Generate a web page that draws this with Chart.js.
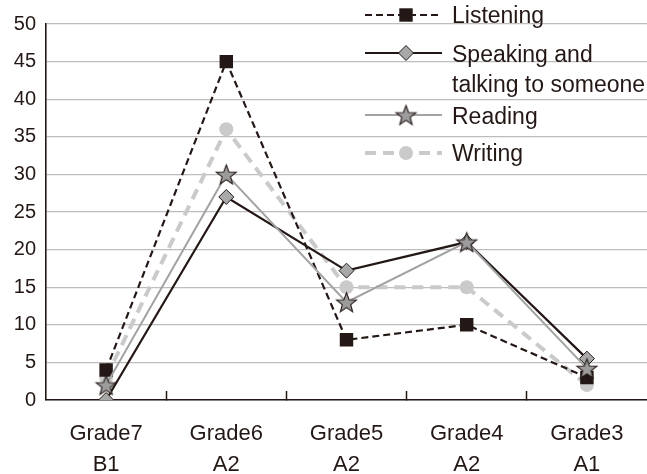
<!DOCTYPE html>
<html>
<head>
<meta charset="utf-8">
<script src="https://cdn.jsdelivr.net/npm/chart.js@4.4.0/dist/chart.umd.min.js"></script>
<style>
  html, body { margin: 0; padding: 0; background: #fff; }
  #wrap { width: 647px; height: 474px; }
</style>
</head>
<body>
<div id="wrap"><canvas id="chart"></canvas></div>
<script>
// data
const categories = [['Grade7', 'B1'], ['Grade6', 'A2'], ['Grade5', 'A2'], ['Grade4', 'A2'], ['Grade3', 'A1']];
const seriesNames = ['Listening', 'Speaking and talking to someone', 'Reading', 'Writing'];
const listening = [4, 45, 8, 10, 3];
const speaking = [0, 27, 17.2, 21, 5.5];
const reading = [2, 30, 13, 21, 4.2];
const writing = [3, 36, 15, 15, 2];
const yMin = 0, yMax = 50, yStep = 5;

const ink = '#231815';

Chart.defaults.font.family = '"Liberation Sans", Arial, sans-serif';
Chart.defaults.color = ink;

// filled 5-point star, Chart.js 'star' is only an asterisk
function makeStar(r, fill, stroke) {
  const s = Math.ceil(r * 2 + 4);
  const c = document.createElement('canvas');
  c.width = s; c.height = s;
  const g = c.getContext('2d');
  g.beginPath();
  for (let i = 0; i < 10; i++) {
    const rad = i % 2 === 0 ? r : r * 0.42;
    const a = -Math.PI / 2 + i * Math.PI / 5;
    const px = s / 2 + rad * Math.cos(a), py = s / 2 + 1 + rad * Math.sin(a);
    i ? g.lineTo(px, py) : g.moveTo(px, py);
  }
  g.closePath();
  g.fillStyle = fill;
  g.fill();
  g.lineWidth = 1.1;
  g.strokeStyle = stroke;
  g.stroke();
  return c;
}
const star = makeStar(10.5, '#9c9c9c', ink);

// legend drawn over the plot, line + marker samples
const legendRows = [
  { ds: 0, y: 15, lines: ['Listening'], base: [23] },
  { ds: 1, y: 53, lines: ['Speaking and', 'talking to someone'], base: [62, 92] },
  { ds: 2, y: 115, lines: ['Reading'], base: [124] },
  { ds: 3, y: 153, lines: ['Writing'], base: [161] }
];
const overlayLegend = {
  id: 'overlayLegend',
  afterDraw(chart) {
    const ctx = chart.ctx;
    legendRows.forEach(row => {
      const ds = chart.data.datasets[row.ds];
      ctx.save();
      ctx.strokeStyle = ds.borderColor;
      ctx.lineWidth = ds.borderWidth;
      ctx.setLineDash(ds.borderDash || []);
      ctx.beginPath();
      ctx.moveTo(365, row.y);
      ctx.lineTo(442, row.y);
      ctx.stroke();
      ctx.setLineDash([]);
      ctx.fillStyle = ds.pointBackgroundColor;
      ctx.strokeStyle = ds.pointBorderColor;
      ctx.lineWidth = ds.pointBorderWidth;
      Chart.helpers.drawPoint(ctx, {
        pointStyle: ds.pointStyle, radius: ds.pointRadius, rotation: 0, borderWidth: ds.pointBorderWidth
      }, 406, row.y);
      ctx.fillStyle = ink;
      ctx.font = '23px "Liberation Sans", Arial, sans-serif';
      ctx.textBaseline = 'alphabetic';
      ctx.textAlign = 'left';
      row.lines.forEach((t, i) => ctx.fillText(t, 452, row.base[i]));
      ctx.restore();
    });
  }
};

new Chart(document.getElementById('chart'), {
  type: 'line',
  data: {
    labels: categories,
    datasets: [
      {
        label: seriesNames[0],
        data: listening,
        borderColor: ink,
        borderWidth: 2.2,
        borderDash: [7, 4],
        pointStyle: 'rect',
        pointRadius: 9.5,
        pointBackgroundColor: ink,
        pointBorderColor: ink,
        pointBorderWidth: 0,
        order: 3
      },
      {
        label: seriesNames[1],
        data: speaking,
        borderColor: ink,
        borderWidth: 2.2,
        pointStyle: 'rectRot',
        pointRadius: 7.5,
        pointBackgroundColor: '#a8a8a8',
        pointBorderColor: ink,
        pointBorderWidth: 1,
        order: 2
      },
      {
        label: seriesNames[2],
        data: reading,
        borderColor: '#a3a3a3',
        borderWidth: 2,
        pointStyle: star,
        pointRadius: 10,
        pointBackgroundColor: '#9c9c9c',
        pointBorderColor: ink,
        pointBorderWidth: 1,
        order: 1
      },
      {
        label: seriesNames[3],
        data: writing,
        borderColor: '#cacaca',
        borderWidth: 4,
        borderDash: [11, 7],
        pointStyle: 'circle',
        pointRadius: 7,
        pointBackgroundColor: '#cacaca',
        pointBorderColor: '#cacaca',
        pointBorderWidth: 0,
        order: 4
      }
    ]
  },
  options: {
    responsive: true,
    maintainAspectRatio: false,
    animation: false,
    layout: { autoPadding: false, padding: { top: 24, right: 0, left: 0, bottom: 0 } },
    plugins: { legend: { display: false }, tooltip: { enabled: false } },
    elements: { line: { tension: 0 } },
    scales: {
      x: {
        type: 'category',
        offset: true,
        grid: {
          offset: true,
          drawOnChartArea: false,
          drawTicks: true,
          tickLength: -9,
          tickWidth: 1.5,
          tickColor: c => (c.index >= 1 && c.index <= 4) ? ink : 'rgba(0,0,0,0)'
        },
        border: { color: ink, width: 1.6 },
        ticks: {
          font: { size: 22, lineHeight: 1.4 },
          padding: 28,
          maxRotation: 0,
          autoSkip: false
        },
        afterFit: s => { s.height = 74; s.paddingLeft = 0; s.paddingRight = 0; }
      },
      y: {
        min: yMin,
        max: yMax,
        grid: { color: '#bdbdbd', lineWidth: 1.3, drawTicks: false },
        border: { color: ink, width: 1.6 },
        ticks: { stepSize: yStep, font: { size: 20 }, padding: 10 },
        afterFit: s => { s.width = 46; }
      }
    }
  },
  plugins: [overlayLegend]
});
</script>
</body>
</html>
